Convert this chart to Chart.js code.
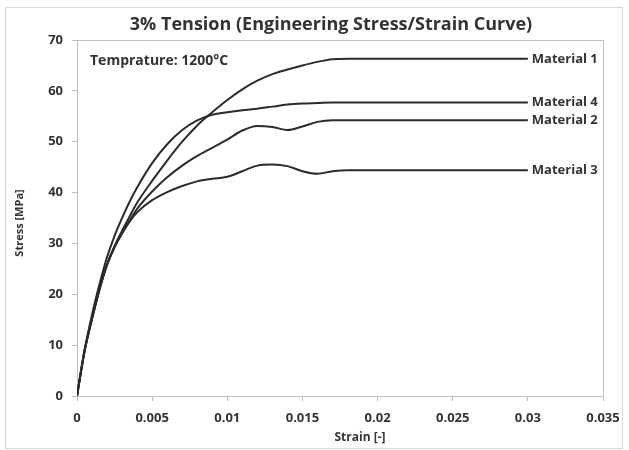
<!DOCTYPE html>
<html>
<head>
<meta charset="utf-8">
<script src="https://cdn.jsdelivr.net/npm/chart.js@4.4.0/dist/chart.umd.min.js"></script>
<style>
    body { margin: 0; background: #fff; }
    #wrap { position: relative; width: 629px; height: 450px; }
    #frame { position: absolute; left: 5px; top: 7px; width: 616px; height: 440px; border: 1px solid #d9d9d9; }
    canvas { position: absolute; left: 0; top: 0; }
</style>
</head>
<body>
<div id="wrap">
    <div id="frame"></div>
    <canvas id="chart" width="629" height="450"></canvas>
</div>
<script>
// Data
const strain = [0, 0.0005, 0.001, 0.0015, 0.002, 0.0025, 0.003, 0.0035, 0.004, 0.005, 0.006, 0.007, 0.008, 0.009, 0.010, 0.011, 0.012, 0.013, 0.014, 0.015, 0.016, 0.017, 0.018, 0.03];
const material1 = [0, 8.8, 15.2, 21, 25.8, 29.5, 32.5, 35.3, 38, 42.3, 46.3, 50, 53.2, 55.8, 58.2, 60.3, 62, 63.3, 64.2, 65, 65.7, 66.2, 66.3, 66.3];
const material2 = [0, 8.8, 15.2, 21, 25.8, 29.3, 32, 34.5, 36.8, 40.2, 43, 45.3, 47.2, 48.8, 50.4, 52.2, 53.1, 52.9, 52.3, 53, 53.9, 54.2, 54.2, 54.2];
const material3 = [0, 8.8, 15.2, 21, 25.8, 29.3, 32, 34.3, 36.1, 38.5, 40.1, 41.3, 42.2, 42.7, 43.1, 44.2, 45.3, 45.5, 45.2, 44.2, 43.7, 44.2, 44.4, 44.4];
const material4 = [0, 9, 16, 22, 27.3, 31.5, 35, 38.2, 41, 45.8, 49.5, 52.3, 54.2, 55.3, 55.8, 56.2, 56.5, 56.9, 57.3, 57.5, 57.6, 57.7, 57.7, 57.7];
const seriesNames = ['Material 1', 'Material 2', 'Material 3', 'Material 4'];
const xTicks = [0, 0.005, 0.01, 0.015, 0.02, 0.025, 0.03, 0.035];
const yTicks = [0, 10, 20, 30, 40, 50, 60, 70];

const FONT = '"Open Sans", Lato, sans-serif';
const TEXT = '#333333';
const AXIS = '#bfbfbf';

function toPoints(ys) {
    return strain.map((x, i) => ({ x: x, y: ys[i] }));
}

const datasets = [material1, material2, material3, material4].map((ys, i) => ({
    label: seriesNames[i],
    data: toPoints(ys),
    showLine: true,
    borderColor: '#2b2b2b',
    borderWidth: 2,
    pointRadius: 0,
    cubicInterpolationMode: 'monotone'
}));

// Plot frame, titles and end-of-line labels
const annotate = {
    id: 'annotate',
    beforeDatasetsDraw(chart) {
        const { ctx, chartArea: a } = chart;
        ctx.save();
        ctx.strokeStyle = AXIS;
        ctx.lineWidth = 1;
        ctx.strokeRect(Math.round(a.left) + 0.5, Math.round(a.top) + 0.5, Math.round(a.right - a.left), Math.round(a.bottom - a.top));
        ctx.restore();
    },
    afterDatasetsDraw(chart) {
        const { ctx } = chart;
        ctx.save();
        ctx.fillStyle = TEXT;

        // series labels at the end of each line
        ctx.font = 'bold 13px ' + FONT;
        ctx.textAlign = 'left';
        ctx.textBaseline = 'middle';
        chart.data.datasets.forEach((ds, i) => {
            const pts = chart.getDatasetMeta(i).data;
            const last = pts[pts.length - 1];
            ctx.fillText(ds.label, last.x + 4, last.y);
        });

        // chart title
        ctx.font = 'bold 18px ' + FONT;
        ctx.textAlign = 'center';
        ctx.fillText('3% Tension (Engineering Stress/Strain Curve)', 331, 25);

        // temperature note
        ctx.font = 'bold 14px ' + FONT;
        ctx.textAlign = 'left';
        ctx.fillText('Temprature: 1200°C', 90, 61);

        // axis titles
        ctx.font = 'bold 12px ' + FONT;
        ctx.textAlign = 'center';
        ctx.fillText('Strain [-]', 360, 438);
        ctx.font = 'bold 11px ' + FONT;
        ctx.translate(20, 223);
        ctx.rotate(-Math.PI / 2);
        ctx.fillText('Stress [MPa]', 0, 0);
        ctx.restore();
    }
};

new Chart(document.getElementById('chart').getContext('2d'), {
    type: 'scatter',
    data: { datasets: datasets },
    options: {
        responsive: false,
        animation: false,
        layout: { padding: { left: 0, top: 40, right: 26, bottom: 0 } },
        plugins: {
            legend: { display: false },
            tooltip: { enabled: false }
        },
        scales: {
            x: {
                type: 'linear',
                min: 0,
                max: 0.035,
                afterBuildTicks: scale => { scale.ticks = xTicks.map(v => ({ value: v })); },
                afterFit: scale => { scale.height = 54; },
                ticks: {
                    color: TEXT,
                    font: { family: FONT, size: 13, weight: 'bold' },
                    maxRotation: 0,
                    padding: 9,
                    callback: v => String(v)
                },
                grid: { drawOnChartArea: false, drawTicks: true, tickLength: 5, color: AXIS },
                border: { color: AXIS }
            },
            y: {
                min: 0,
                max: 70,
                afterBuildTicks: scale => { scale.ticks = yTicks.map(v => ({ value: v })); },
                afterFit: scale => { scale.width = 77; },
                ticks: {
                    color: TEXT,
                    font: { family: FONT, size: 13, weight: 'bold' },
                    padding: 9
                },
                grid: { drawOnChartArea: false, drawTicks: true, tickLength: 5, color: AXIS },
                border: { color: AXIS }
            }
        }
    },
    plugins: [annotate]
});
</script>
</body>
</html>
